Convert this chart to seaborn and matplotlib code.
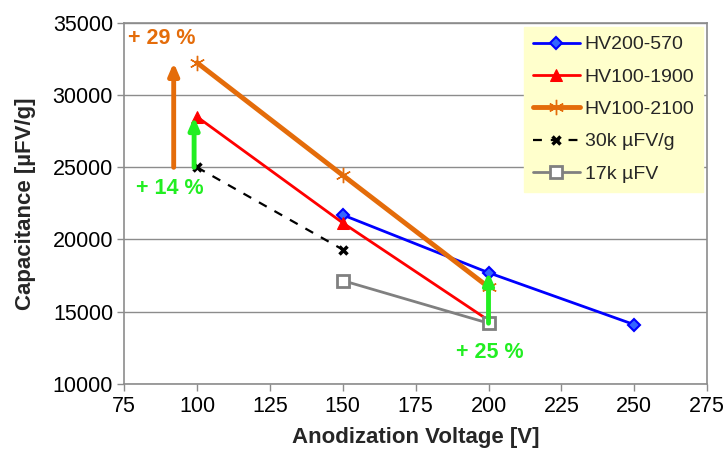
import matplotlib
matplotlib.use("Agg")
import matplotlib.pyplot as plt
import seaborn as sns
import pandas as pd

# Capacitance vs. anodization voltage for several powders
volts_570 = [150, 200, 250]
cap_570 = [21700, 17700, 14100]
volts_1900 = [100, 150, 200]
cap_1900 = [28500, 21150, 14400]
volts_2100 = [100, 150, 200]
cap_2100 = [32250, 24450, 16700]
volts_30k = [100, 150]
cap_30k = [25000, 19300]
volts_17k = [150, 200]
cap_17k = [17150, 14200]

# Capacitance gains: voltage, base value and percent increase
gain_x = [92, 99, 200]
gain_base = [25000, 25000, 14200]
gain_pct = [29, 14, 25]

x_ticks = [75, 100, 125, 150, 175, 200, 225, 250, 275]
y_ticks = [10000, 15000, 20000, 25000, 30000, 35000]

sns.set_style("white")
plt.rcParams["font.family"] = ["Liberation Sans", "DejaVu Sans"]

fig = plt.figure(figsize=(7.26, 4.51), dpi=100)
ax = fig.add_axes([0.171, 0.149, 0.803, 0.800])

grid_c = "#8c8c8c"
orange = "#E46C0A"
green = "#22EE22"

ax.set_xlim(75, 275)
ax.set_ylim(10000, 35000)
ax.set_xticks(x_ticks)
ax.set_yticks(y_ticks)
ax.yaxis.grid(True, color=grid_c, lw=1)
ax.set_axisbelow(True)
for s in ax.spines.values():
    s.set_color(grid_c)
    s.set_linewidth(1.2)
ax.tick_params(axis="both", labelsize=15.5, colors=grid_c, labelcolor="black",
               direction="out", length=5, width=1, bottom=True, left=True)
ax.tick_params(axis="x", pad=4)
ax.tick_params(axis="y", pad=3)

series = [
    ("HV200-570", volts_570, cap_570, dict(color="#0000FF", lw=2, marker="D", ms=6,
                                             mfc="#3366FF", mec="#0000FF", mew=1.5)),
    ("HV100-1900", volts_1900, cap_1900, dict(color="#FF0000", lw=2, marker="^", ms=9,
                                                mfc="#FF0000", mec="#FF0000")),
    ("HV100-2100", volts_2100, cap_2100, dict(color=orange, lw=3.5, marker=(6, 2, 0), ms=11,
                                                mec=orange, mew=1)),
    ("30k µFV/g", volts_30k, cap_30k, dict(color="black", lw=1.6, linestyle=(0, (4, 4)),
                                            marker="x", ms=6, mew=2.5, mec="black")),
    ("17k µFV", volts_17k, cap_17k, dict(color="#808080", lw=2, marker="s", ms=8,
                                          mfc="white", mec="#808080", mew=2)),
]
for name, xs, ys, style in series:
    df = pd.DataFrame({"V": xs, "C": ys})
    sns.lineplot(data=df, x="V", y="C", ax=ax, label=name, **style)

# Gain arrows with percentage labels
arrow_cols = [orange, green, green]
label_pos = [(88, 33900), (90.8, 23550), (200.6, 12200)]
for gx, base, pct, col, (lx, ly) in zip(gain_x, gain_base, gain_pct, arrow_cols, label_pos):
    tip = base * (1 + pct / 100)
    ax.annotate("", xy=(gx, tip), xytext=(gx, base),
                arrowprops=dict(arrowstyle="-|>,head_length=0.7,head_width=0.3",
                                lw=3.5, color=col, shrinkA=0, shrinkB=0))
    ax.text(lx, ly, f"+ {pct} %", color=col, fontsize=15.5, fontweight="bold",
            ha="center", va="center")

ax.set_xlabel("Anodization Voltage [V]", fontsize=16, fontweight="bold", labelpad=7)
ax.set_ylabel("Capacitance [µFV/g]", fontsize=16, fontweight="bold", labelpad=12)

leg = ax.legend(loc="upper right", bbox_to_anchor=(0.993, 0.989), borderaxespad=0,
                fontsize=14, frameon=True, fancybox=False, framealpha=1,
                handlelength=2.4, labelspacing=0.76, borderpad=0.45, handletextpad=0.25)
leg.get_frame().set_facecolor("#FFFFCC")
leg.get_frame().set_edgecolor("#FFFFCC")

fig.savefig("out.png", dpi=100)
